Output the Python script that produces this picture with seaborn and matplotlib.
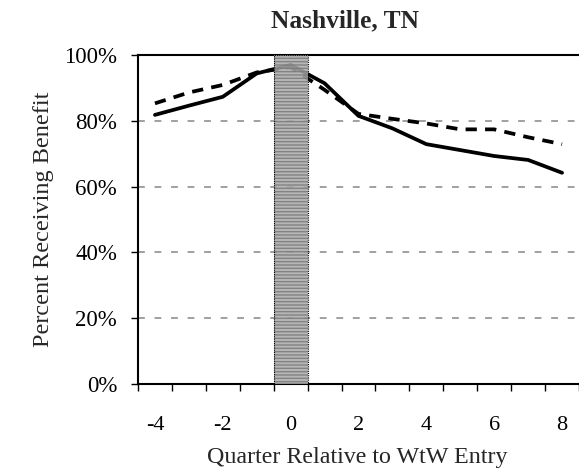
import matplotlib
matplotlib.use("Agg")
import matplotlib.pyplot as plt
import seaborn as sns
import pandas as pd
from matplotlib.ticker import FixedLocator, PercentFormatter

quarters = [-4, -3, -2, -1, 0, 1, 2, 3, 4, 5, 6, 7, 8]
solid_vals = [81.8, 84.6, 87.3, 94.4, 97.0, 91.4, 81.5, 77.7, 72.9, 71.1, 69.3, 68.1, 64.2]
dashed_vals = [85.3, 88.6, 90.9, 94.7, 96.3, 89.4, 82.1, 80.6, 79.2, 77.4, 77.4, 75.0, 72.9]
x_tick_labels = [-4, -2, 0, 2, 4, 6, 8]
y_ticks = [0, 20, 40, 60, 80, 100]

sns.set_style("white")
plt.rcParams['font.family'] = ['Liberation Serif', 'DejaVu Serif']
plt.rcParams['axes.unicode_minus'] = False
plt.rcParams['hatch.color'] = '#7a7a7a'

fig = plt.figure(figsize=(5.79, 4.74), dpi=100)
ax = fig.add_axes([138/579, 1-384/474, 1-138/579, (384-55)/474])

df_s = pd.DataFrame({"q": quarters, "v": solid_vals})
df_d = pd.DataFrame({"q": quarters, "v": dashed_vals})

for y in [20, 40, 60, 80]:
    ax.axhline(y, color="#a0a0a0", lw=1.4, ls=(0, (3.5, 5.0)), zorder=1)

sns.lineplot(data=df_d, x="q", y="v", ax=ax, color="black", lw=2.7, zorder=3)
ax.lines[-1].set_dashes((3.0, 2.2))
sns.lineplot(data=df_s, x="q", y="v", ax=ax, color="black", lw=2.7, zorder=3)

ax.axvspan(-0.5, 0.5, facecolor="#aaaaaa", edgecolor="#7a7a7a", hatch="-----",
           lw=0, alpha=0.85, zorder=4)
ax.axvspan(-0.5, 0.5, fill=False, edgecolor="black", ls=(0, (1, 1)), lw=0.8, zorder=5)

ax.set_xlim(-4.5, 8.5)
ax.set_ylim(0, 100)
ax.xaxis.set_major_locator(FixedLocator(x_tick_labels))
ax.xaxis.set_minor_locator(FixedLocator([q - 0.5 for q in quarters] + [8.5]))
ax.set_yticks(y_ticks)
ax.yaxis.set_major_formatter(PercentFormatter(decimals=0))
ax.tick_params(axis="x", which="major", length=0, labelsize=16, pad=23, colors="black")
ax.tick_params(axis="x", which="minor", length=5, width=1, direction="out", bottom=True, color="black")
ax.tick_params(axis="y", which="major", length=5, width=1, direction="out", left=True,
               labelsize=16.5, pad=10, colors="black")

for s in ["left", "bottom", "top"]:
    ax.spines[s].set_visible(True)
    ax.spines[s].set_color("black")
    ax.spines[s].set_linewidth(1.5)
ax.spines["right"].set_visible(False)

ax.set_xlabel("Quarter Relative to WtW Entry", fontsize=17.3)
ax.xaxis.set_label_coords(0.498, -0.19)
ax.set_ylabel("Percent Receiving Benefit", fontsize=17.5)
ax.yaxis.set_label_coords(-0.19, 0.5)
fig.text(345/579, 1-27/474, "Nashville, TN", fontsize=18.3, fontweight="bold",
         ha="center", va="baseline")

fig.savefig("out.png", dpi=100)
